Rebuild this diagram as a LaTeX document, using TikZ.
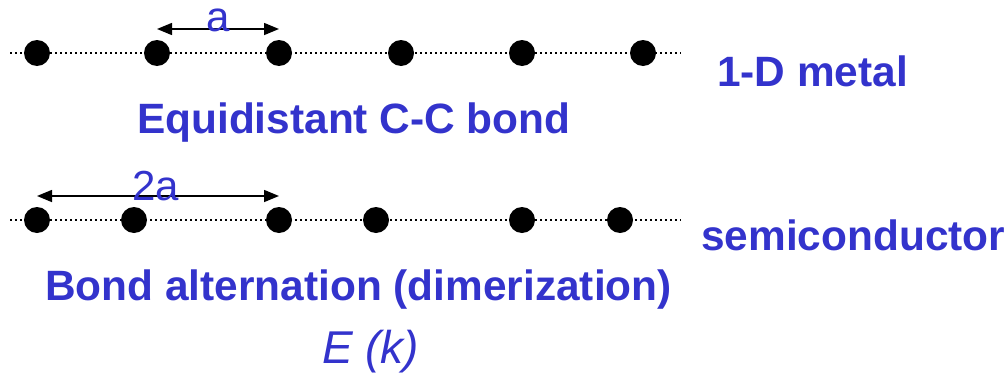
\documentclass[tikz,border=0pt]{standalone}
\usepackage{fontspec}
\setmainfont{Liberation Sans}
\usetikzlibrary{arrows.meta}
\definecolor{txtblue}{RGB}{51,51,204}
\begin{document}
\begin{tikzpicture}[x=1pt,y=-1pt,
  atom/.style={circle,fill=black,minimum size=26pt,inner sep=0pt},
  chain/.style={line width=2.2pt,dash pattern=on 2.2pt off 2.8pt},
  span/.style={line width=1.5pt,{Triangle[length=15pt,width=12pt]}-{Triangle[length=15pt,width=12pt]}},
  lbl/.style={text=txtblue,font=\fontsize{42.4}{48}\selectfont\bfseries,inner sep=0pt,anchor=base west},
  dim/.style={text=txtblue,font=\fontsize{42}{48}\selectfont,inner sep=0pt,anchor=base}]
\useasboundingbox (0,0) rectangle (1007,375);
% row 1
\coordinate (r1s) at (10,53);
\coordinate (r1e) at (681,53);
\draw[chain] (r1s) -- (r1e);
\node[atom] (a1) at (37,53) {};
\node[atom] (a2) at (157,53) {};
\node[atom] (a3) at (279,53) {};
\node[atom] (a4) at (401,53) {};
\node[atom] (a5) at (522,53) {};
\node[atom] (a6) at (643,53) {};
\coordinate (p1) at (157,29);
\coordinate (p2) at (279,29);
\draw[span] (p1) -- (p2);
\node[dim] (la) at (218,31) {a};
% row 2
\coordinate (r2s) at (10,220);
\coordinate (r2e) at (681,220);
\draw[chain] (r2s) -- (r2e);
\node[atom] (b1) at (37,220) {};
\node[atom] (b2) at (134,220) {};
\node[atom] (b3) at (279,220) {};
\node[atom] (b4) at (376,220) {};
\node[atom] (b5) at (522,220) {};
\node[atom] (b6) at (620,220) {};
\coordinate (q1) at (37,196);
\coordinate (q2) at (279,196);
\draw[span] (q1) -- (q2);
\node[dim] (l2a) at (156,200) {2a};
% labels
\node[lbl] (metal) at (717,86) {1-D metal};
\node[lbl] (equi) at (137,133) {Equidistant C-C bond};
\node[lbl] (semi) at (701,250) {semiconductor};
\node[lbl] (bond) at (45,300) {Bond alternation (dimerization)};
\node[lbl,font=\fontsize{46}{52}\selectfont\itshape] (ek) at (322,363) {E (k)};
\end{tikzpicture}
\end{document}
